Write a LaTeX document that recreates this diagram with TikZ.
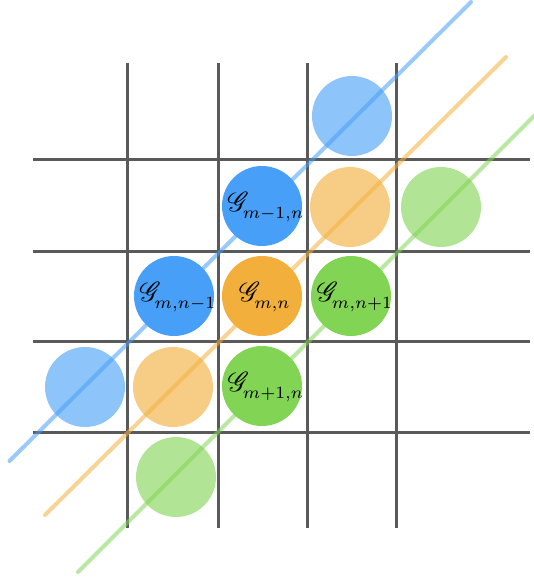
\documentclass[tikz,border=0pt]{standalone}
\usepackage{amsmath}
\usepackage{graphicx}
\usepackage{mathrsfs}
\definecolor{gblue}{HTML}{479FF7}
\definecolor{gorange}{HTML}{F2AF3B}
\definecolor{ggreen}{HTML}{82D454}
\definecolor{gridgray}{HTML}{5A5A5A}
\newcommand{\glab}[1]{\scalebox{2.45}{$\scalebox{1.12}{$\mathscr{G}$}_{\kern-2.6pt\raisebox{-1.3pt}{$\scriptstyle #1$}}$}}
\begin{document}
\begin{tikzpicture}[x=1pt,y=-1pt,
  cell/.style={circle,minimum size=80pt,inner sep=0pt},
  dark/.style={cell,fill=#1},
  light/.style={cell,fill=#1,fill opacity=0.62},
  gridline/.style={line width=3pt,draw=gridgray},
  diag/.style={line width=4pt,draw=#1,draw opacity=0.55}]
\useasboundingbox (0,0) rectangle (533,577);
% grid
\foreach \x in {127,218,307,396}
  \draw[gridline] (\x,63) -- (\x,528);
\foreach \y in {160,251,341,432}
  \draw[gridline] (33,\y) -- (530,\y);
% light circles
\node[light=gblue] (b1) at (352,116) {};
\node[light=gorange] (o1) at (350,207) {};
\node[light=ggreen] (g1) at (441,207) {};
\node[light=gblue] (b2) at (85,387) {};
\node[light=gorange] (o2) at (173,387) {};
\node[light=ggreen] (g2) at (176,477) {};
% diagonal lines
\coordinate (bs) at (9.5,461);
\coordinate (be) at (471,2);
\coordinate (os) at (45,515);
\coordinate (oe) at (506,57);
\coordinate (gs) at (78,572);
\coordinate (ge) at (536,114);
\draw[diag=gblue,line cap=round] (bs) -- (be);
\draw[diag=gorange,line cap=round] (os) -- (oe);
\draw[diag=ggreen,line cap=round] (gs) -- (ge);
% dark circles
\node[dark=gblue] (gm1n) at (262,206) {};
\node[dark=gblue] (gmn1) at (174,296) {};
\node[dark=gorange] (gmn) at (262,296) {};
\node[dark=ggreen] (gmnp) at (351,296) {};
\node[dark=ggreen] (gmp1n) at (262,386) {};
% labels
\node[inner sep=0pt] (tm1n) at ([xshift=4pt,yshift=-1pt]gm1n.center) {\glab{m{-}1,n}};
\node[inner sep=0pt] (tmn1) at ([xshift=4pt,yshift=-1pt]gmn1.center) {\glab{m,n{-}1}};
\node[inner sep=0pt] (tmn) at ([xshift=3pt,yshift=-1pt]gmn.center) {\glab{m,n}};
\node[inner sep=0pt] (tmnp) at ([xshift=4pt,yshift=-1pt]gmnp.center) {\glab{m,n{+}1}};
\node[inner sep=0pt] (tmp1n) at ([xshift=4pt,yshift=-1pt]gmp1n.center) {\glab{m{+}1,n}};
\end{tikzpicture}
\end{document}
